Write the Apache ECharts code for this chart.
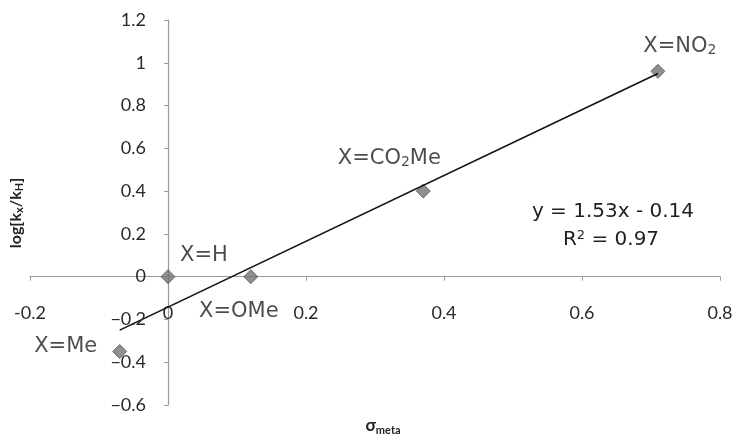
<!DOCTYPE html>
<html>
<head>
<meta charset="utf-8">
<script src="https://cdn.jsdelivr.net/npm/echarts@6/dist/echarts.min.js"></script>
<style>
  html, body { margin: 0; padding: 0; background: #fff; }
  #chart { width: 736px; height: 434px; }
</style>
</head>
<body>
<div id="chart"></div>
<script>
// ---- data ----
const sigmaMeta = [0, 0.12, -0.07, 0.37, 0.71];
const logRatio = [0, 0, -0.35, 0.40, 0.96];
const substituents = ['X=H', 'X=OMe', 'X=Me', 'X=CO{sub|2}Me', 'X=NO{sub|2}'];
const trendX = [-0.07, 0.71];
const trendY = [-0.25, 0.95];
const xTickValues = [-0.2, 0, 0.2, 0.4, 0.6, 0.8];
const yTickValues = [-0.6, -0.4, -0.2, 0, 0.2, 0.4, 0.6, 0.8, 1, 1.2];
const equationText = 'y = 1.53x - 0.14';
const r2Text = 'R{sup|2} = 0.97';

// ---- styling / layout (not data) ----
const W = 736, H = 434;
const gridBox = { left: 30, right: 16, top: 20, bottom: 29 };
const labelOffsets = {
  'X=H': [36, -21],
  'X=OMe': [-12, 35],
  'X=Me': [-54, -5],
  'X=CO{sub|2}Me': [-34, -33],
  'X=NO{sub|2}': [22, -25]
};
const labelFont = 'DejaVu Sans';
const tickFont = { fontFamily: 'Lato', fontSize: 18, color: '#2a2a2a' };
const yLabelMargin = 22;
const axisGray = '#9a9a9a';
const richSub = {
  sub: { fontSize: 14, fontFamily: labelFont, color: '#1e1e1e', verticalAlign: 'bottom', padding: [9, 0, 0, 0] }
};
const fmt = v => String(Number(v.toFixed(2)));
// y tick labels use the true minus sign
const fmtY = v => { const s = fmt(v); return s.charAt(0) === '-' ? '\u2212' + s.slice(1) : s; };

const xMin = xTickValues[0], xMax = xTickValues[xTickValues.length - 1];
const yMin = yTickValues[0], yMax = yTickValues[yTickValues.length - 1];
const gridW = W - gridBox.left - gridBox.right, gridH = H - gridBox.top - gridBox.bottom;
// axes cross at the origin: shift them with the library's offset option
const xAxisOffset = -gridH * (0 - yMin) / (yMax - yMin);
const yAxisOffset = -gridW * (0 - xMin) / (xMax - xMin);

const chart = echarts.init(document.getElementById('chart'), null, { renderer: 'canvas' });

const scatterData = sigmaMeta.map((x, i) => ({
  value: [x, logRatio[i]],
  name: substituents[i],
  label: { offset: labelOffsets[substituents[i]] }
}));

const staticGraphics = [
  {
    id: 'ytitle',
    type: 'text',
    x: 16, y: 213,
    rotation: Math.PI / 2,
    style: {
      text: 'log[k{s|x}/k{s|H}]',
      fontFamily: 'Lato', fontWeight: 'bold', fontSize: 16, fill: '#222',
      align: 'center', verticalAlign: 'middle',
      rich: { s: { fontFamily: 'Lato', fontWeight: 'bold', fontSize: 11, fill: '#222', padding: [7, 0, 0, 0] } }
    }
  },
  {
    id: 'xtitle',
    type: 'text',
    x: 383, y: 426,
    style: {
      text: 'σ{s|meta}',
      fontFamily: 'Lato', fontWeight: 'bold', fontSize: 17, fill: '#222',
      align: 'center', verticalAlign: 'middle',
      rich: { s: { fontFamily: 'Lato', fontWeight: 'bold', fontSize: 11, fill: '#222', padding: [8, 0, 0, 0] } }
    }
  },
  {
    id: 'eq',
    type: 'text',
    x: 613, y: 212,
    style: {
      text: equationText,
      fontFamily: labelFont, fontSize: 20, fill: '#1e1e1e',
      align: 'center', verticalAlign: 'middle'
    }
  },
  {
    id: 'r2',
    type: 'text',
    x: 611, y: 240,
    style: {
      text: r2Text,
      fontFamily: labelFont, fontSize: 20, fill: '#1e1e1e',
      align: 'center', verticalAlign: 'middle',
      rich: { sup: { fontFamily: labelFont, fontSize: 13, fill: '#1e1e1e', padding: [0, 0, 9, 0] } }
    }
  }
];

const option = {
  animation: false,
  backgroundColor: '#fff',
  grid: Object.assign({ containLabel: false, outerBoundsMode: 'none' }, gridBox),
  xAxis: {
    type: 'value',
    position: 'bottom',
    offset: xAxisOffset,
    min: xMin, max: xMax, interval: 0.2,
    splitLine: { show: false },
    axisLine: { onZero: false, lineStyle: { color: axisGray, width: 1.2 } },
    axisTick: { show: true, length: 4, lineStyle: { color: axisGray } },
    axisLabel: Object.assign({ margin: 28, formatter: fmt, hideOverlap: false }, tickFont)
  },
  yAxis: {
    type: 'value',
    position: 'left',
    offset: yAxisOffset,
    min: yMin, max: yMax, interval: 0.2,
    splitLine: { show: false },
    axisLine: { onZero: false, lineStyle: { color: axisGray, width: 1.2 } },
    axisTick: { show: true, length: 4, lineStyle: { color: axisGray } },
    axisLabel: { show: false }
  },
  series: [
    {
      type: 'scatter',
      symbol: 'diamond',
      symbolSize: 14,
      itemStyle: { color: '#737373', borderColor: '#555', borderWidth: 1 },
      label: {
        show: true,
        position: 'inside',
        formatter: p => p.name,
        fontFamily: labelFont,
        fontSize: 21,
        color: '#1e1e1e',
        rich: richSub
      },
      data: scatterData,
      z: 3
    },
    {
      type: 'line',
      data: trendX.map((x, i) => [x, trendY[i]]),
      symbol: 'none',
      lineStyle: { color: '#111', width: 1.6 },
      z: 4
    }
  ],
  graphic: staticGraphics
};

chart.setOption(option);

// y tick labels placed through the chart's own y scale
const yTickGraphics = yTickValues.map((v, i) => {
  const p = chart.convertToPixel({ xAxisIndex: 0, yAxisIndex: 0 }, [0, v]);
  return {
    id: 'ytick' + i,
    type: 'text',
    x: p[0] - yLabelMargin,
    y: p[1],
    z: 5,
    style: {
      text: fmtY(v),
      fontFamily: tickFont.fontFamily, fontSize: tickFont.fontSize, fill: tickFont.color,
      align: 'right', verticalAlign: 'middle'
    }
  };
});
chart.setOption({ graphic: staticGraphics.concat(yTickGraphics) });
</script>
</body>
</html>
